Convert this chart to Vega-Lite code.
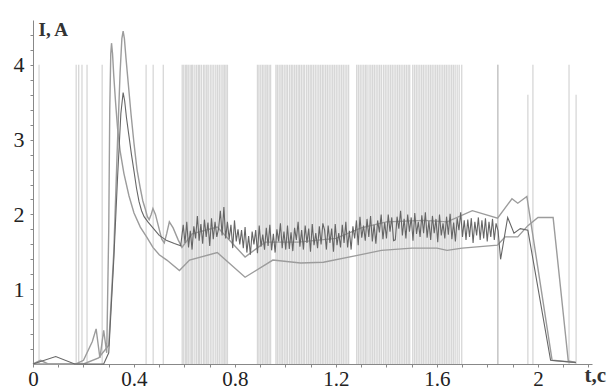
{
"$schema":"https://vega.github.io/schema/vega-lite/v6.json",
"width":559,"height":344,"autosize":{"type":"none"},
"padding":{"left":33,"top":20,"right":19,"bottom":25},
"background":"white",
"config":{"view":{"stroke":null},"axis":{"labelOverlap":false}},
"resolve":{"axis":{"x":"independent","y":"independent"}},
"datasets":{
"rules":[{"t":0.024,"top":4},{"t":0.171,"top":4},{"t":0.181,"top":4},{"t":0.194,"top":4},{"t":0.214,"top":4},{"t":0.274,"top":4},{"t":0.448,"top":4},{"t":0.476,"top":4},{"t":0.516,"top":4},
{"t":0.591,"top":4},{"t":0.597,"top":4},{"t":0.604,"top":4},{"t":0.609,"top":4},{"t":0.615,"top":4},{"t":0.622,"top":4},{"t":0.628,"top":4},{"t":0.633,"top":4},{"t":0.641,"top":4},{"t":0.648,"top":4},{"t":0.655,"top":4},{"t":0.66,"top":4},{"t":0.667,"top":4},{"t":0.675,"top":4},{"t":0.681,"top":4},{"t":0.688,"top":4},{"t":0.694,"top":4},{"t":0.702,"top":4},{"t":0.709,"top":4},{"t":0.716,"top":4},{"t":0.724,"top":4},{"t":0.731,"top":4},{"t":0.738,"top":4},{"t":0.745,"top":4},{"t":0.752,"top":4},{"t":0.758,"top":4},{"t":0.764,"top":4},{"t":0.77,"top":4},
{"t":0.889,"top":4},{"t":0.895,"top":4},{"t":0.902,"top":4},{"t":0.909,"top":4},{"t":0.915,"top":4},{"t":0.922,"top":4},{"t":0.928,"top":4},{"t":0.935,"top":4},{"t":0.941,"top":4},{"t":0.962,"top":4},{"t":0.968,"top":4},{"t":0.975,"top":4},{"t":0.982,"top":4},{"t":0.988,"top":4},{"t":0.995,"top":4},{"t":1.002,"top":4},{"t":1.008,"top":4},{"t":1.016,"top":4},{"t":1.023,"top":4},{"t":1.029,"top":4},{"t":1.036,"top":4},{"t":1.043,"top":4},{"t":1.05,"top":4},{"t":1.056,"top":4},{"t":1.063,"top":4},{"t":1.07,"top":4},{"t":1.076,"top":4},{"t":1.084,"top":4},{"t":1.091,"top":4},{"t":1.098,"top":4},{"t":1.104,"top":4},{"t":1.111,"top":4},{"t":1.118,"top":4},{"t":1.125,"top":4},{"t":1.132,"top":4},{"t":1.139,"top":4},{"t":1.146,"top":4},{"t":1.152,"top":4},{"t":1.159,"top":4},{"t":1.166,"top":4},{"t":1.173,"top":4},{"t":1.18,"top":4},{"t":1.187,"top":4},{"t":1.194,"top":4},{"t":1.201,"top":4},{"t":1.208,"top":4},{"t":1.215,"top":4},{"t":1.222,"top":4},{"t":1.229,"top":4},{"t":1.236,"top":4},{"t":1.243,"top":4},{"t":1.25,"top":4},
{"t":1.282,"top":4},{"t":1.289,"top":4},{"t":1.296,"top":4},{"t":1.303,"top":4},{"t":1.31,"top":4},{"t":1.317,"top":4},{"t":1.323,"top":4},{"t":1.331,"top":4},{"t":1.338,"top":4},{"t":1.345,"top":4},{"t":1.352,"top":4},{"t":1.359,"top":4},{"t":1.366,"top":4},{"t":1.373,"top":4},{"t":1.38,"top":4},{"t":1.388,"top":4},{"t":1.395,"top":4},{"t":1.402,"top":4},{"t":1.409,"top":4},{"t":1.416,"top":4},{"t":1.423,"top":4},{"t":1.43,"top":4},{"t":1.437,"top":4},{"t":1.444,"top":4},{"t":1.451,"top":4},{"t":1.458,"top":4},{"t":1.465,"top":4},{"t":1.472,"top":4},{"t":1.479,"top":4},{"t":1.486,"top":4},{"t":1.492,"top":4},
{"t":1.504,"top":4},{"t":1.511,"top":4},{"t":1.518,"top":4},{"t":1.525,"top":4},{"t":1.532,"top":4},{"t":1.539,"top":4},{"t":1.546,"top":4},{"t":1.553,"top":4},{"t":1.56,"top":4},{"t":1.567,"top":4},{"t":1.574,"top":4},{"t":1.581,"top":4},{"t":1.588,"top":4},{"t":1.595,"top":4},{"t":1.602,"top":4},{"t":1.609,"top":4},{"t":1.616,"top":4},{"t":1.623,"top":4},{"t":1.63,"top":4},{"t":1.637,"top":4},{"t":1.644,"top":4},{"t":1.651,"top":4},{"t":1.658,"top":4},{"t":1.665,"top":4},{"t":1.672,"top":4},{"t":1.68,"top":4},{"t":1.688,"top":4},{"t":1.698,"top":4},
{"t":1.841,"top":4},{"t":1.841,"top":4},{"t":1.96,"top":3.6},{"t":1.98,"top":4},{"t":2.123,"top":4},{"t":2.151,"top":3.6}],
"lines":[
{"s":"C","t":0,"i":0},{"s":"C","t":0.03,"i":0.05},{"s":"C","t":0.06,"i":0},{"s":"C","t":0.17,"i":0},{"s":"C","t":0.2,"i":0.05},{"s":"C","t":0.235,"i":0.3},{"s":"C","t":0.25,"i":0.47},{"s":"C","t":0.265,"i":0.08},{"s":"C","t":0.28,"i":0.45},{"s":"C","t":0.292,"i":0.15},{"s":"C","t":0.3,"i":1.8},{"s":"C","t":0.304,"i":3.4},{"s":"C","t":0.308,"i":4.15},{"s":"C","t":0.311,"i":4.29},{"s":"C","t":0.315,"i":4.15},{"s":"C","t":0.32,"i":3.85},{"s":"C","t":0.327,"i":3.5},{"s":"C","t":0.335,"i":3.15},{"s":"C","t":0.345,"i":2.85},{"s":"C","t":0.36,"i":2.55},{"s":"C","t":0.38,"i":2.25},{"s":"C","t":0.4,"i":2.02},{"s":"C","t":0.425,"i":1.83},{"s":"C","t":0.45,"i":1.7},{"s":"C","t":0.475,"i":1.56},{"s":"C","t":0.5,"i":1.46},{"s":"C","t":0.53,"i":1.39},{"s":"C","t":0.58,"i":1.25},{"s":"C","t":0.62,"i":1.39},{"s":"C","t":0.73,"i":1.49},{"s":"C","t":0.84,"i":1.16},{"s":"C","t":0.95,"i":1.39},{"s":"C","t":1.06,"i":1.35},{"s":"C","t":1.15,"i":1.36},{"s":"C","t":1.28,"i":1.45},{"s":"C","t":1.38,"i":1.52},{"s":"C","t":1.5,"i":1.55},{"s":"C","t":1.6,"i":1.55},{"s":"C","t":1.64,"i":1.52},{"s":"C","t":1.7,"i":1.55},{"s":"C","t":1.84,"i":1.59},{"s":"C","t":1.87,"i":1.7},{"s":"C","t":1.92,"i":1.7},{"s":"C","t":1.96,"i":1.85},{"s":"C","t":2.0,"i":1.96},{"s":"C","t":2.06,"i":1.96},{"s":"C","t":2.12,"i":0.04},{"s":"C","t":2.15,"i":0.02},
{"s":"B","t":0,"i":0},{"s":"B","t":0.2,"i":0},{"s":"B","t":0.26,"i":0.08},{"s":"B","t":0.3,"i":0.25},{"s":"B","t":0.32,"i":1.5},{"s":"B","t":0.335,"i":3.0},{"s":"B","t":0.345,"i":3.9},{"s":"B","t":0.352,"i":4.35},{"s":"B","t":0.357,"i":4.45},{"s":"B","t":0.362,"i":4.35},{"s":"B","t":0.368,"i":4.1},{"s":"B","t":0.376,"i":3.8},{"s":"B","t":0.388,"i":3.35},{"s":"B","t":0.4,"i":2.95},{"s":"B","t":0.412,"i":2.6},{"s":"B","t":0.425,"i":2.35},{"s":"B","t":0.435,"i":2.18},{"s":"B","t":0.445,"i":2.07},{"s":"B","t":0.453,"i":1.97},{"s":"B","t":0.46,"i":1.93},{"s":"B","t":0.468,"i":2.0},{"s":"B","t":0.475,"i":2.08},{"s":"B","t":0.485,"i":2.0},{"s":"B","t":0.5,"i":1.8},{"s":"B","t":0.51,"i":1.67},{"s":"B","t":0.52,"i":1.62},{"s":"B","t":0.53,"i":1.75},{"s":"B","t":0.54,"i":1.9},{"s":"B","t":0.555,"i":1.82},{"s":"B","t":0.575,"i":1.66},{"s":"B","t":0.59,"i":1.56},{"s":"B","t":0.63,"i":1.74},{"s":"B","t":0.73,"i":1.83},{"s":"B","t":0.84,"i":1.43},{"s":"B","t":0.92,"i":1.63},{"s":"B","t":1.05,"i":1.63},{"s":"B","t":1.2,"i":1.68},{"s":"B","t":1.3,"i":1.82},{"s":"B","t":1.4,"i":1.9},{"s":"B","t":1.55,"i":1.92},{"s":"B","t":1.64,"i":1.9},{"s":"B","t":1.74,"i":2.05},{"s":"B","t":1.84,"i":1.95},{"s":"B","t":1.897,"i":2.21},{"s":"B","t":1.92,"i":2.15},{"s":"B","t":1.956,"i":2.24},{"s":"B","t":2.056,"i":0.05},{"s":"B","t":2.15,"i":0.02},
{"s":"A","t":0,"i":0},{"s":"A","t":0.09,"i":0.1},{"s":"A","t":0.165,"i":0},{"s":"A","t":0.28,"i":0},{"s":"A","t":0.3,"i":0.15},{"s":"A","t":0.32,"i":1.4},{"s":"A","t":0.335,"i":2.5},{"s":"A","t":0.348,"i":3.35},{"s":"A","t":0.357,"i":3.63},{"s":"A","t":0.363,"i":3.52},{"s":"A","t":0.37,"i":3.3},{"s":"A","t":0.38,"i":3.05},{"s":"A","t":0.39,"i":2.8},{"s":"A","t":0.4,"i":2.58},{"s":"A","t":0.41,"i":2.35},{"s":"A","t":0.42,"i":2.17},{"s":"A","t":0.43,"i":2.05},{"s":"A","t":0.44,"i":1.97},{"s":"A","t":0.455,"i":1.9},{"s":"A","t":0.47,"i":1.84},{"s":"A","t":0.5,"i":1.72},{"s":"A","t":0.53,"i":1.65},{"s":"A","t":0.56,"i":1.61},{"s":"A","t":0.585,"i":1.58},
{"s":"A","t":0.595,"i":1.86},{"s":"A","t":0.602,"i":1.62},{"s":"A","t":0.609,"i":1.9},{"s":"A","t":0.616,"i":1.56},{"s":"A","t":0.623,"i":1.78},{"s":"A","t":0.63,"i":1.53},{"s":"A","t":0.637,"i":1.84},{"s":"A","t":0.644,"i":1.68},{"s":"A","t":0.651,"i":1.98},{"s":"A","t":0.658,"i":1.65},{"s":"A","t":0.665,"i":1.87},{"s":"A","t":0.672,"i":1.61},{"s":"A","t":0.679,"i":1.93},{"s":"A","t":0.686,"i":1.7},{"s":"A","t":0.693,"i":1.89},{"s":"A","t":0.7,"i":1.58},{"s":"A","t":0.707,"i":1.95},{"s":"A","t":0.714,"i":1.67},{"s":"A","t":0.721,"i":1.9},{"s":"A","t":0.728,"i":1.7},
{"s":"A","t":0.735,"i":1.81},{"s":"A","t":0.742,"i":2.05},{"s":"A","t":0.749,"i":1.72},{"s":"A","t":0.756,"i":2.1},{"s":"A","t":0.763,"i":1.68},{"s":"A","t":0.77,"i":1.9},{"s":"A","t":0.777,"i":1.67},{"s":"A","t":0.784,"i":1.86},{"s":"A","t":0.791,"i":1.55},{"s":"A","t":0.798,"i":1.92},{"s":"A","t":0.805,"i":1.64},{"s":"A","t":0.812,"i":1.8},{"s":"A","t":0.819,"i":1.6},{"s":"A","t":0.826,"i":1.79},{"s":"A","t":0.833,"i":1.55},{"s":"A","t":0.84,"i":1.83},{"s":"A","t":0.847,"i":1.49},{"s":"A","t":0.854,"i":1.71},{"s":"A","t":0.861,"i":1.46},{"s":"A","t":0.868,"i":1.77},
{"s":"A","t":0.875,"i":1.6},{"s":"A","t":0.882,"i":1.79},{"s":"A","t":0.889,"i":1.48},{"s":"A","t":0.896,"i":1.85},{"s":"A","t":0.903,"i":1.57},{"s":"A","t":0.91,"i":1.73},{"s":"A","t":0.917,"i":1.53},{"s":"A","t":0.924,"i":1.82},{"s":"A","t":0.931,"i":1.58},{"s":"A","t":0.938,"i":1.86},{"s":"A","t":0.945,"i":1.52},{"s":"A","t":0.952,"i":1.74},{"s":"A","t":0.959,"i":1.49},{"s":"A","t":0.966,"i":1.8},{"s":"A","t":0.973,"i":1.64},{"s":"A","t":0.98,"i":1.88},{"s":"A","t":0.987,"i":1.55},{"s":"A","t":0.994,"i":1.77},{"s":"A","t":1.001,"i":1.53},{"s":"A","t":1.008,"i":1.85},
{"s":"A","t":1.015,"i":1.54},{"s":"A","t":1.022,"i":1.76},{"s":"A","t":1.029,"i":1.51},{"s":"A","t":1.036,"i":1.82},{"s":"A","t":1.043,"i":1.66},{"s":"A","t":1.05,"i":1.9},{"s":"A","t":1.057,"i":1.57},{"s":"A","t":1.064,"i":1.79},{"s":"A","t":1.071,"i":1.53},{"s":"A","t":1.078,"i":1.85},{"s":"A","t":1.085,"i":1.62},{"s":"A","t":1.092,"i":1.81},{"s":"A","t":1.099,"i":1.5},{"s":"A","t":1.106,"i":1.87},{"s":"A","t":1.113,"i":1.59},{"s":"A","t":1.12,"i":1.75},{"s":"A","t":1.127,"i":1.55},{"s":"A","t":1.134,"i":1.84},{"s":"A","t":1.141,"i":1.6},{"s":"A","t":1.148,"i":1.88},
{"s":"A","t":1.155,"i":1.79},{"s":"A","t":1.162,"i":1.53},{"s":"A","t":1.169,"i":1.85},{"s":"A","t":1.176,"i":1.62},{"s":"A","t":1.183,"i":1.81},{"s":"A","t":1.19,"i":1.5},{"s":"A","t":1.197,"i":1.87},{"s":"A","t":1.204,"i":1.59},{"s":"A","t":1.211,"i":1.75},{"s":"A","t":1.218,"i":1.56},{"s":"A","t":1.225,"i":1.86},{"s":"A","t":1.232,"i":1.62},{"s":"A","t":1.239,"i":1.9},{"s":"A","t":1.246,"i":1.56},{"s":"A","t":1.253,"i":1.78},{"s":"A","t":1.26,"i":1.53},{"s":"A","t":1.267,"i":1.84},{"s":"A","t":1.274,"i":1.68},{"s":"A","t":1.281,"i":1.92},{"s":"A","t":1.288,"i":1.59},
{"s":"A","t":1.295,"i":1.97},{"s":"A","t":1.302,"i":1.69},{"s":"A","t":1.309,"i":1.85},{"s":"A","t":1.316,"i":1.65},{"s":"A","t":1.323,"i":1.94},{"s":"A","t":1.33,"i":1.7},{"s":"A","t":1.337,"i":1.98},{"s":"A","t":1.344,"i":1.64},{"s":"A","t":1.351,"i":1.86},{"s":"A","t":1.358,"i":1.61},{"s":"A","t":1.365,"i":1.92},{"s":"A","t":1.372,"i":1.76},{"s":"A","t":1.379,"i":2.0},{"s":"A","t":1.386,"i":1.67},{"s":"A","t":1.393,"i":1.89},{"s":"A","t":1.4,"i":1.68},{"s":"A","t":1.407,"i":2.0},{"s":"A","t":1.414,"i":1.77},{"s":"A","t":1.421,"i":1.96},{"s":"A","t":1.428,"i":1.65},
{"s":"A","t":1.435,"i":1.66},{"s":"A","t":1.442,"i":1.97},{"s":"A","t":1.449,"i":1.81},{"s":"A","t":1.456,"i":2.05},{"s":"A","t":1.463,"i":1.72},{"s":"A","t":1.47,"i":1.94},{"s":"A","t":1.477,"i":1.68},{"s":"A","t":1.484,"i":2.0},{"s":"A","t":1.491,"i":1.77},{"s":"A","t":1.498,"i":1.96},{"s":"A","t":1.505,"i":1.65},{"s":"A","t":1.512,"i":2.02},{"s":"A","t":1.519,"i":1.74},{"s":"A","t":1.526,"i":1.9},{"s":"A","t":1.533,"i":1.7},{"s":"A","t":1.54,"i":1.99},{"s":"A","t":1.547,"i":1.75},{"s":"A","t":1.554,"i":2.03},{"s":"A","t":1.561,"i":1.69},{"s":"A","t":1.568,"i":1.91},
{"s":"A","t":1.575,"i":1.66},{"s":"A","t":1.582,"i":1.98},{"s":"A","t":1.589,"i":1.75},{"s":"A","t":1.596,"i":1.94},{"s":"A","t":1.603,"i":1.63},{"s":"A","t":1.61,"i":2.0},{"s":"A","t":1.617,"i":1.72},{"s":"A","t":1.624,"i":1.88},{"s":"A","t":1.631,"i":1.68},{"s":"A","t":1.638,"i":1.97},{"s":"A","t":1.645,"i":1.73},{"s":"A","t":1.652,"i":2.01},{"s":"A","t":1.659,"i":1.67},{"s":"A","t":1.666,"i":1.89},{"s":"A","t":1.673,"i":1.64},{"s":"A","t":1.68,"i":1.95},{"s":"A","t":1.687,"i":1.79},{"s":"A","t":1.694,"i":2.03},{"s":"A","t":1.701,"i":1.7},{"s":"A","t":1.708,"i":1.92},
{"s":"A","t":1.715,"i":1.66},{"s":"A","t":1.722,"i":1.93},{"s":"A","t":1.729,"i":1.7},{"s":"A","t":1.736,"i":1.95},{"s":"A","t":1.743,"i":1.62},{"s":"A","t":1.75,"i":1.9},{"s":"A","t":1.757,"i":1.72},{"s":"A","t":1.764,"i":1.96},{"s":"A","t":1.771,"i":1.66},{"s":"A","t":1.778,"i":1.92},{"s":"A","t":1.785,"i":1.68},{"s":"A","t":1.792,"i":1.95},{"s":"A","t":1.799,"i":1.64},{"s":"A","t":1.806,"i":1.9},{"s":"A","t":1.813,"i":1.7},{"s":"A","t":1.82,"i":1.94},{"s":"A","t":1.827,"i":1.66},{"s":"A","t":1.834,"i":1.88},
{"s":"A","t":1.842,"i":1.78},{"s":"A","t":1.852,"i":1.4},{"s":"A","t":1.88,"i":1.96},{"s":"A","t":1.905,"i":1.75},{"s":"A","t":1.93,"i":1.81},{"s":"A","t":1.96,"i":1.79},{"s":"A","t":2.05,"i":0.05},{"s":"A","t":2.15,"i":0.02}
]},
"layer":[
{"data":{"name":"rules"},
 "mark":{"type":"rule","color":"#b0b0b0","opacity":0.5,"strokeWidth":1.3},
 "encoding":{
  "x":{"field":"t","type":"quantitative","scale":{"domain":[0,2.214],"nice":false,"zero":false},"axis":null},
  "y":{"field":"top","type":"quantitative","scale":{"domain":[0,4.6],"nice":false},"axis":null},
  "y2":{"datum":0}}},
{"data":{"name":"lines"},
 "transform":[{"filter":"datum.s !== 'A'"}],
 "mark":{"type":"line","strokeWidth":1.4,"interpolate":"linear","color":"#9c9c9c"},
 "encoding":{
  "detail":{"field":"s","type":"nominal"},
  "x":{"field":"t","type":"quantitative",
   "axis":{"values":[0,0.1,0.2,0.3,0.4,0.5,0.6,0.7,0.8,0.9,1,1.1,1.2,1.3,1.4,1.5,1.6,1.7,1.8,1.9,2,2.1,2.2],
    "labelExpr":"indexof([0,0.4,0.8,1.2,1.6,2], datum.value) >= 0 ? datum.label : ''",
    "format":"~g","grid":false,"domainColor":"#888","tickColor":"#888","tickSize":3,
    "labelFont":"Liberation Serif","labelFontSize":21,"labelColor":"#222","labelPadding":1,"labelFlush":false,"labelOverlap":false,
    "title":"t,c","titleFont":"Liberation Serif","titleFontSize":21,"titleFontWeight":"bold","titleColor":"#333",
    "titleAlign":"left","titleBaseline":"middle","titleX":551,"titleY":11}},
  "y":{"field":"i","type":"quantitative",
   "axis":{"values":[0.2,0.4,0.6,0.8,1,1.2,1.4,1.6,1.8,2,2.2,2.4,2.6,2.8,3,3.2,3.4,3.6,3.8,4,4.2,4.4],
    "labelExpr":"indexof([1,2,3,4], datum.value) >= 0 ? datum.label : ''",
    "format":"~g","grid":false,"domainColor":"#888","tickColor":"#888","tickSize":3,
    "labelFont":"Liberation Serif","labelFontSize":22,"labelColor":"#222","labelPadding":6,"labelOverlap":false,"labelFlush":false,
    "title":"I, A","titleFont":"Liberation Serif","titleFontSize":19,"titleFontWeight":"bold","titleColor":"#333",
    "titleAngle":0,"titleAlign":"left","titleBaseline":"middle","titleX":5,"titleY":9}}}},
{"data":{"name":"lines"},
 "transform":[{"filter":"datum.s === 'A'"}],
 "mark":{"type":"line","strokeWidth":1.1,"interpolate":"linear","color":"#666666"},
 "encoding":{
  "x":{"field":"t","type":"quantitative","axis":null},
  "y":{"field":"i","type":"quantitative","axis":null}}}
]
}
